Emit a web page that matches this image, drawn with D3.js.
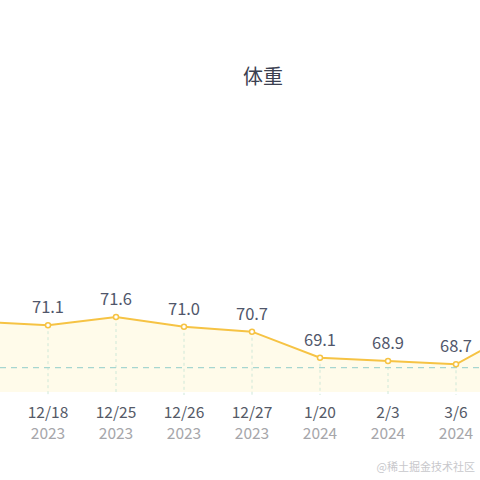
<!DOCTYPE html>
<html>
<head>
<meta charset="utf-8">
<script src="https://cdn.jsdelivr.net/npm/d3@7"></script>
<style>
  html, body { margin: 0; padding: 0; background: #fff; }
  svg { display: block; }
</style>
</head>
<body>
<div id="chart"></div>
<script>
// weight records, the first and last are scrolled out of view
const dates = ["", "12/18", "12/25", "12/26", "12/27", "1/20", "2/3", "3/6", ""];
const years = ["", "2023", "2023", "2023", "2023", "2024", "2024", "2024", ""];
const weights = [71.3, 71.1, 71.6, 71.0, 70.7, 69.1, 68.9, 68.7, 71.0];
const targetWeight = 68.5;
const yDomain = [67, 75];

const width = 480, height = 480;
const fontFamily = "'Noto Sans CJK SC', 'Noto Sans', sans-serif";

const svg = d3.select("#chart")
    .append("svg")
    .attr("width", width)
    .attr("height", height);

// title
svg.append("text")
    .attr("x", 263)
    .attr("y", 84)
    .attr("text-anchor", "middle")
    .attr("font-family", fontFamily)
    .attr("font-size", 20)
    .attr("fill", "#3b4050")
    .text("体重");

const idx = weights.map((d, i) => i);
const shown = idx.filter(i => dates[i]);
const x = d3.scalePoint().domain(idx).range([-20, 524]);
const y = d3.scaleLinear().domain(yDomain).range([392, 261.6]);
const bottom = y(yDomain[0]);

// area under the line
const area = d3.area()
    .x(i => x(i))
    .y0(bottom)
    .y1(i => y(weights[i]));

svg.append("path")
    .datum(idx)
    .attr("d", area)
    .attr("fill", "#fffbea");

// vertical dashed guides
svg.selectAll(".guide")
    .data(idx)
    .enter().append("line")
    .attr("class", "guide")
    .attr("x1", i => x(i))
    .attr("x2", i => x(i))
    .attr("y1", i => y(weights[i]))
    .attr("y2", bottom + 3)
    .attr("stroke", "#cfe8d8")
    .attr("stroke-width", 1)
    .attr("stroke-dasharray", "3,3");

// target line
svg.append("line")
    .attr("x1", 0)
    .attr("x2", width)
    .attr("y1", y(targetWeight))
    .attr("y2", y(targetWeight))
    .attr("stroke", "#a6d6d0")
    .attr("stroke-width", 1.2)
    .attr("stroke-dasharray", "6,5");

// line
const line = d3.line()
    .x(i => x(i))
    .y(i => y(weights[i]));

svg.append("path")
    .datum(idx)
    .attr("d", line)
    .attr("fill", "none")
    .attr("stroke", "#f6c344")
    .attr("stroke-width", 2);

// points
svg.selectAll(".dot")
    .data(idx)
    .enter().append("circle")
    .attr("class", "dot")
    .attr("cx", i => x(i))
    .attr("cy", i => y(weights[i]))
    .attr("r", 2.5)
    .attr("fill", "#fff")
    .attr("stroke", "#f6c344")
    .attr("stroke-width", 1.5);

// value labels
svg.selectAll(".val")
    .data(shown)
    .enter().append("text")
    .attr("class", "val")
    .attr("x", i => x(i))
    .attr("y", i => y(weights[i]) - 12)
    .attr("text-anchor", "middle")
    .attr("font-family", fontFamily)
    .attr("font-size", 16.5)
    .attr("fill", "#50566a")
    .text(i => weights[i].toFixed(1));

// date and year labels
svg.selectAll(".date")
    .data(shown)
    .enter().append("text")
    .attr("class", "date")
    .attr("x", i => x(i))
    .attr("y", 418)
    .attr("text-anchor", "middle")
    .attr("font-family", fontFamily)
    .attr("font-size", 15.5)
    .attr("fill", "#555a67")
    .text(i => dates[i]);

svg.selectAll(".year")
    .data(shown)
    .enter().append("text")
    .attr("class", "year")
    .attr("x", i => x(i))
    .attr("y", 439)
    .attr("text-anchor", "middle")
    .attr("font-family", fontFamily)
    .attr("font-size", 15.5)
    .attr("fill", "#a6a6aa")
    .text(i => years[i]);

// watermark
svg.append("text")
    .attr("x", 475)
    .attr("y", 471)
    .attr("text-anchor", "end")
    .attr("font-family", fontFamily)
    .attr("font-size", 11)
    .attr("fill", "#c8c8cc")
    .text("@稀土掘金技术社区");
</script>
</body>
</html>
